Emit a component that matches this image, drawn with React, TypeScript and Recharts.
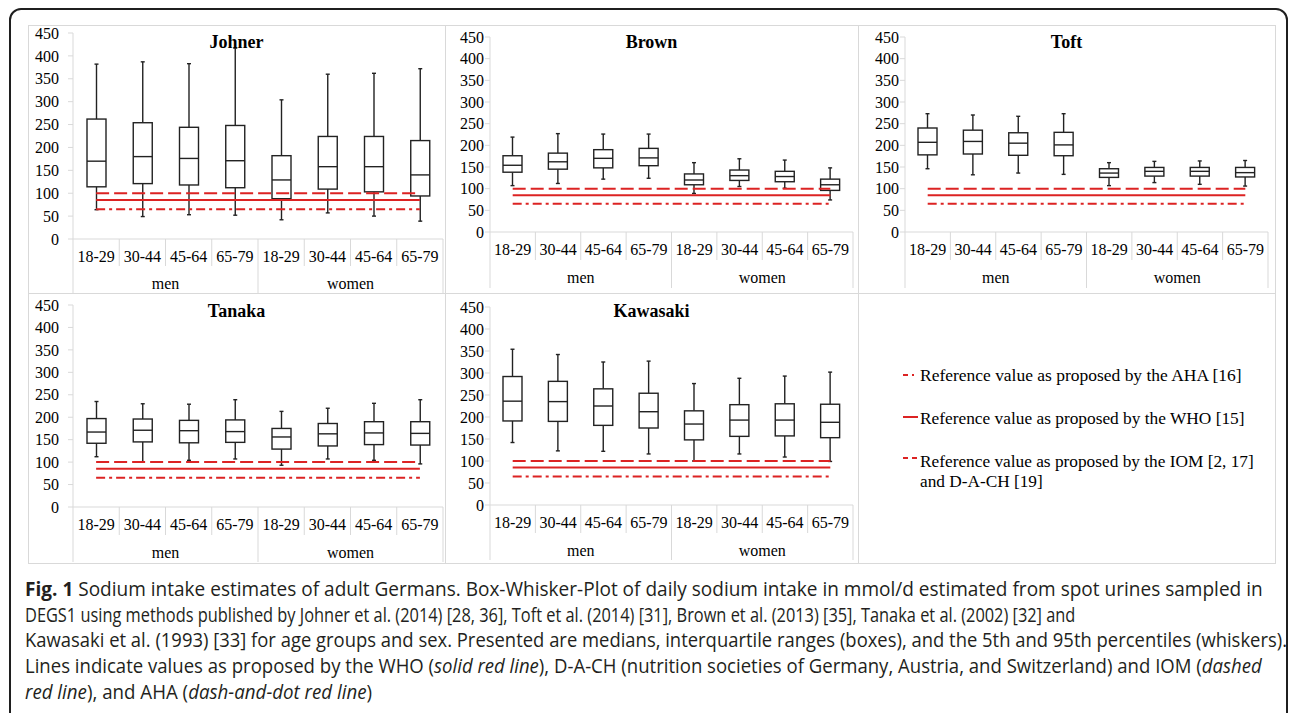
import React, { useLayoutEffect, useRef, useState } from 'react';
import { ComposedChart, Bar, Line, XAxis, YAxis } from 'recharts';

// ---------- data ----------
const ageGroups = ['18-29', '30-44', '45-64', '65-79', '18-29', '30-44', '45-64', '65-79'];
const sexGroups = ['men', 'men', 'men', 'men', 'women', 'women', 'women', 'women'];
const yTicks = [0, 50, 100, 150, 200, 250, 300, 350, 400, 450];

const ahaValue = 65; // dash-and-dot
const whoValue = 85; // solid
const iomValue = 100; // dashed

const johnerP5 = [64, 49, 53, 52, 42, 57, 50, 39];
const johnerQ1 = [114, 121, 118, 112, 88, 109, 103, 94];
const johnerMedian = [170, 180, 176, 171, 129, 158, 158, 140];
const johnerQ3 = [262, 254, 244, 248, 182, 224, 224, 215];
const johnerP95 = [382, 387, 383, 417, 304, 360, 362, 372];

const brownP5 = [107, 112, 122, 124, 89, 105, 101, 74];
const brownQ1 = [138, 145, 148, 153, 109, 119, 116, 96];
const brownMedian = [154, 162, 170, 171, 120, 130, 128, 109];
const brownQ3 = [176, 182, 190, 193, 134, 143, 140, 122];
const brownP95 = [219, 227, 226, 226, 160, 169, 166, 148];

const toftP5 = [146, 132, 136, 133, 107, 114, 110, 106];
const toftQ1 = [178, 180, 177, 176, 126, 129, 129, 127];
const toftMedian = [207, 209, 205, 201, 136, 140, 140, 137];
const toftQ3 = [240, 235, 229, 230, 146, 149, 149, 149];
const toftP95 = [273, 270, 267, 273, 160, 163, 164, 165];

const tanakaP5 = [112, 101, 104, 107, 93, 107, 104, 96];
const tanakaQ1 = [142, 145, 143, 144, 129, 136, 139, 138];
const tanakaMedian = [167, 171, 170, 168, 156, 163, 165, 164];
const tanakaQ3 = [197, 196, 193, 194, 175, 186, 190, 190];
const tanakaP95 = [235, 230, 229, 239, 213, 220, 231, 239];

const kawasakiP5 = [142, 123, 122, 116, 100, 116, 109, 99];
const kawasakiQ1 = [191, 190, 181, 175, 148, 156, 157, 153];
const kawasakiMedian = [236, 235, 225, 212, 184, 193, 193, 188];
const kawasakiQ3 = [292, 281, 264, 254, 214, 228, 230, 229];
const kawasakiP95 = [354, 342, 325, 327, 276, 288, 293, 302];

// ---------- styles ----------
const serif = '"Liberation Serif", "Times New Roman", serif';
const gridGray = '#d9d9d9';
const boxStroke = '#222222';
const red = '#dc2323';
const iomDash = '13 5';
const ahaDash = '9 4 3 4';
const tickStyle: React.CSSProperties = { fontFamily: serif, fontSize: 16 };

function buildData(p5: number[], q1: number[], med: number[], q3: number[], p95: number[]) {
  return ageGroups.map((age, i) => ({
    key: `${sexGroups[i]}-${age}`,
    age,
    sex: sexGroups[i],
    box: [q1[i], q3[i]],
    p5: p5[i],
    q1: q1[i],
    med: med[i],
    q3: q3[i],
    p95: p95[i],
    aha: ahaValue,
    who: whoValue,
    iom: iomValue,
  }));
}

const BoxShape = (props: any) => {
  const { x, y, width, height, payload } = props;
  if (!payload || width == null) return null;
  const top = Math.min(y, y + height);
  const h = Math.abs(height);
  const span = payload.q3 - payload.q1;
  const k = span > 0 ? h / span : 0;
  const toY = (v: number) => top + (payload.q3 - v) * k;
  const cx = x + width / 2;
  const cap = 2;
  const yTop = toY(payload.p95);
  const yBot = toY(payload.p5);
  const yMed = toY(payload.med);
  return (
    <g>
      <line x1={cx} x2={cx} y1={yTop} y2={top} stroke={boxStroke} strokeWidth={1.4} />
      <line x1={cx} x2={cx} y1={top + h} y2={yBot} stroke={boxStroke} strokeWidth={1.4} />
      <line x1={cx - cap} x2={cx + cap} y1={yTop} y2={yTop} stroke={boxStroke} strokeWidth={1.4} />
      <line x1={cx - cap} x2={cx + cap} y1={yBot} y2={yBot} stroke={boxStroke} strokeWidth={1.4} />
      <rect x={x} y={top} width={width} height={h} fill="#fff" stroke={boxStroke} strokeWidth={1.4} />
      <line x1={x} x2={x + width} y1={yMed} y2={yMed} stroke={boxStroke} strokeWidth={1.4} />
    </g>
  );
};

const YTick = (props: any) => {
  const { x, y, payload } = props;
  return (
    <text x={x} y={y} dy="0.355em" textAnchor="end" fill="#000" fontFamily="Liberation Serif" style={tickStyle}>
      {payload.value}
    </text>
  );
};

const makeAgeTick = (rowHeight: number, textDy: number) => (props: any) => {
  const { x, y, payload, index } = props;
  const half = payload && payload.offset ? payload.offset : 23;
  const isLast = index === ageGroups.length - 1;
  return (
    <g>
      <line x1={x - half} x2={x - half} y1={y} y2={y + rowHeight} stroke={gridGray} strokeWidth={1} />
      {isLast && <line x1={x + half} x2={x + half} y1={y} y2={y + rowHeight} stroke={gridGray} strokeWidth={1} />}
      <text x={x} y={y + textDy} textAnchor="middle" fill="#000" fontFamily="Liberation Serif" style={tickStyle}>
        {ageGroups[index]}
      </text>
    </g>
  );
};

const makeSexTick = (rowHeight: number, textDy: number, count: number) => (props: any) => {
  const { x, y, payload, index } = props;
  const half = payload && payload.offset ? payload.offset : 92;
  const isLast = index === count - 1;
  return (
    <g>
      <line x1={x - half} x2={x - half} y1={y} y2={y + rowHeight} stroke={gridGray} strokeWidth={1} />
      {isLast && <line x1={x + half} x2={x + half} y1={y} y2={y + rowHeight} stroke={gridGray} strokeWidth={1} />}
      <text x={x} y={y + textDy} textAnchor="middle" fill="#000" fontFamily="Liberation Serif" style={tickStyle}>
        {payload.value}
      </text>
    </g>
  );
};

type PanelCfg = {
  name: string;
  left: number;
  top: number;
  width: number;
  height: number;
  margin: { top: number; right: number; bottom: number; left: number };
  yAxisWidth: number;
  yTickMargin: number;
  row1: number;
  row2: number;
  titleY: number;
  data: any[];
};

const panels: PanelCfg[] = [
  {
    name: 'Johner', left: 28, top: 25, width: 417, height: 268,
    margin: { top: 8, right: 2, bottom: 0, left: 0 }, yAxisWidth: 45, yTickMargin: 9,
    row1: 27, row2: 27, titleY: 42,
    data: buildData(johnerP5, johnerQ1, johnerMedian, johnerQ3, johnerP95),
  },
  {
    name: 'Brown', left: 445, top: 25, width: 413, height: 268,
    margin: { top: 12, right: 5, bottom: 5, left: 0 }, yAxisWidth: 45, yTickMargin: 1,
    row1: 28, row2: 28, titleY: 42,
    data: buildData(brownP5, brownQ1, brownMedian, brownQ3, brownP95),
  },
  {
    name: 'Toft', left: 858, top: 25, width: 417, height: 268,
    margin: { top: 12, right: 7, bottom: 5, left: 0 }, yAxisWidth: 47, yTickMargin: 1,
    row1: 28, row2: 28, titleY: 42,
    data: buildData(toftP5, toftQ1, toftMedian, toftQ3, toftP95),
  },
  {
    name: 'Tanaka', left: 28, top: 293, width: 417, height: 270,
    margin: { top: 12, right: 2, bottom: 1, left: 0 }, yAxisWidth: 45, yTickMargin: 9,
    row1: 28, row2: 27, titleY: 311,
    data: buildData(tanakaP5, tanakaQ1, tanakaMedian, tanakaQ3, tanakaP95),
  },
  {
    name: 'Kawasaki', left: 445, top: 293, width: 413, height: 270,
    margin: { top: 14, right: 5, bottom: 3, left: 0 }, yAxisWidth: 45, yTickMargin: 1,
    row1: 28, row2: 27, titleY: 311,
    data: buildData(kawasakiP5, kawasakiQ1, kawasakiMedian, kawasakiQ3, kawasakiP95),
  },
];

function Panel({ cfg }: { cfg: PanelCfg }) {
  return (
    <div style={{ position: 'absolute', left: cfg.left, top: cfg.top, width: cfg.width, height: cfg.height, fontFamily: serif }}>
      <ComposedChart width={cfg.width} height={cfg.height} data={cfg.data} margin={cfg.margin}>
        <XAxis
          xAxisId="age"
          dataKey="key"
          type="category"
          interval={0}
          height={cfg.row1}
          tickLine={false}
          tickSize={0}
          tickMargin={0}
          axisLine={{ stroke: gridGray, strokeWidth: 1 }}
          tick={makeAgeTick(cfg.row1, 23)}
        />
        <XAxis
          xAxisId="sex"
          dataKey="sex"
          type="category"
          allowDuplicatedCategory={false}
          interval={0}
          height={cfg.row2}
          tickLine={false}
          tickSize={0}
          tickMargin={0}
          axisLine={false}
          tick={makeSexTick(cfg.row2, 23, 2)}
        />
        <YAxis
          type="number"
          domain={[0, 450]}
          ticks={yTicks}
          interval={0}
          width={cfg.yAxisWidth}
          tickSize={5}
          tickMargin={cfg.yTickMargin}
          axisLine={{ stroke: gridGray, strokeWidth: 1 }}
          tickLine={{ stroke: gridGray, strokeWidth: 1 }}
          tick={YTick}
        />
        <Bar xAxisId="age" dataKey="box" barSize={19} shape={BoxShape} isAnimationActive={false} />
        <Line xAxisId="age" dataKey="iom" stroke={red} strokeWidth={2} strokeDasharray={iomDash} dot={false} activeDot={false} isAnimationActive={false} />
        <Line xAxisId="age" dataKey="who" stroke={red} strokeWidth={2} dot={false} activeDot={false} isAnimationActive={false} />
        <Line xAxisId="age" dataKey="aha" stroke={red} strokeWidth={2} strokeDasharray={ahaDash} dot={false} activeDot={false} isAnimationActive={false} />
      </ComposedChart>
      <div
        style={{
          position: 'absolute', left: 0, top: cfg.titleY - cfg.top - 11, width: cfg.width, height: 22,
          lineHeight: '22px', textAlign: 'center', fontFamily: serif, fontWeight: 'bold', fontSize: 18, color: '#000',
        }}
      >
        {cfg.name}
      </div>
    </div>
  );
}

// text line scaled horizontally to a target width, positioned by its baseline
function FitLine(props: {
  left: number; baseline: number; width: number; fontSize: number; family: string;
  ascent: number; descent: number; color?: string; children: React.ReactNode;
}) {
  const ref = useRef<HTMLDivElement>(null);
  const [scale, setScale] = useState(1);
  useLayoutEffect(() => {
    if (ref.current) {
      const w = ref.current.scrollWidth;
      if (w > 0) setScale(props.width / w);
    }
  }, [props.width]);
  const L = Math.round(props.fontSize * 1.4);
  const off = L / 2 + ((props.ascent - props.descent) / 2) * props.fontSize;
  return (
    <div
      ref={ref}
      style={{
        position: 'absolute', left: props.left, top: props.baseline - off, whiteSpace: 'nowrap',
        fontSize: props.fontSize, fontFamily: props.family, lineHeight: `${L}px`, color: props.color || '#000',
        transform: `scaleX(${scale})`, transformOrigin: '0 0',
      }}
    >
      {props.children}
    </div>
  );
}

const legendItems = [
  { label: 'Reference value as proposed by the AHA [16]', dash: '5 4 2 4', markerY: 375, baseline: 381, width: 322 },
  { label: 'Reference value as proposed by the WHO [15]', dash: undefined, markerY: 417, baseline: 424, width: 325 },
  { label: 'Reference value as proposed by the IOM [2, 17]', dash: '5 4', markerY: 458, baseline: 467, width: 334 },
];

const captionFont = '"Open Sans", "Noto Sans", sans-serif';

export default function App() {
  const serifAsc = 0.891;
  const serifDesc = 0.216;
  const sansAsc = 1.069;
  const sansDesc = 0.293;
  return (
    <div style={{ position: 'absolute', left: 0, top: 0, width: 1292, height: 713, background: '#fff', overflow: 'hidden' }}>
      {/* outer rounded frame */}
      <div
        style={{
          position: 'absolute', left: 9, top: 8, width: 1279, height: 760,
          border: '2px solid #1f1f1f', borderRadius: 12, boxSizing: 'border-box',
        }}
      />
      {/* gray panel borders */}
      {[
        [28, 25, 417, 268], [445, 25, 413, 268], [858, 25, 417, 268],
        [28, 293, 417, 270], [445, 293, 413, 270], [858, 293, 417, 270],
      ].map(([l, t, w, h], i) => (
        <div
          key={i}
          style={{ position: 'absolute', left: l, top: t, width: w + 1, height: h + 1, border: `1px solid ${gridGray}`, boxSizing: 'border-box' }}
        />
      ))}
      {panels.map((p) => (
        <Panel key={p.name} cfg={p} />
      ))}
      {/* legend */}
      <svg style={{ position: 'absolute', left: 0, top: 0 }} width={1292} height={713}>
        {legendItems.map((it, i) => (
          <line key={i} x1={903} x2={918} y1={it.markerY} y2={it.markerY} stroke={red} strokeWidth={2} strokeDasharray={it.dash} />
        ))}
      </svg>
      {legendItems.map((it, i) => (
        <FitLine key={i} left={920} baseline={it.baseline} width={it.width} fontSize={16} family={serif} ascent={serifAsc} descent={serifDesc}>
          {it.label}
        </FitLine>
      ))}
      <FitLine left={920} baseline={487} width={123} fontSize={16} family={serif} ascent={serifAsc} descent={serifDesc}>
        and D-A-CH [19]
      </FitLine>
      {/* caption */}
      <FitLine left={25} baseline={597} width={1238} fontSize={20} family={captionFont} ascent={sansAsc} descent={sansDesc} color="#231f20">
        <b>Fig. 1</b> Sodium intake estimates of adult Germans. Box-Whisker-Plot of daily sodium intake in mmol/d estimated from spot urines sampled in
      </FitLine>
      <FitLine left={25} baseline={623} width={1050} fontSize={20} family={captionFont} ascent={sansAsc} descent={sansDesc} color="#231f20">
        DEGS1 using methods published by Johner et al. (2014) [28, 36], Toft et al. (2014) [31], Brown et al. (2013) [35], Tanaka et al. (2002) [32] and
      </FitLine>
      <FitLine left={25} baseline={648} width={1262} fontSize={20} family={captionFont} ascent={sansAsc} descent={sansDesc} color="#231f20">
        Kawasaki et al. (1993) [33] for age groups and sex. Presented are medians, interquartile ranges (boxes), and the 5th and 95th percentiles (whiskers).
      </FitLine>
      <FitLine left={25} baseline={674} width={1237} fontSize={20} family={captionFont} ascent={sansAsc} descent={sansDesc} color="#231f20">
        Lines indicate values as proposed by the WHO (<i>solid red line</i>), D-A-CH (nutrition societies of Germany, Austria, and Switzerland) and IOM (<i>dashed</i>
      </FitLine>
      <FitLine left={25} baseline={700} width={347} fontSize={20} family={captionFont} ascent={sansAsc} descent={sansDesc} color="#231f20">
        <i>red line</i>), and AHA (<i>dash-and-dot red line</i>)
      </FitLine>
    </div>
  );
}
